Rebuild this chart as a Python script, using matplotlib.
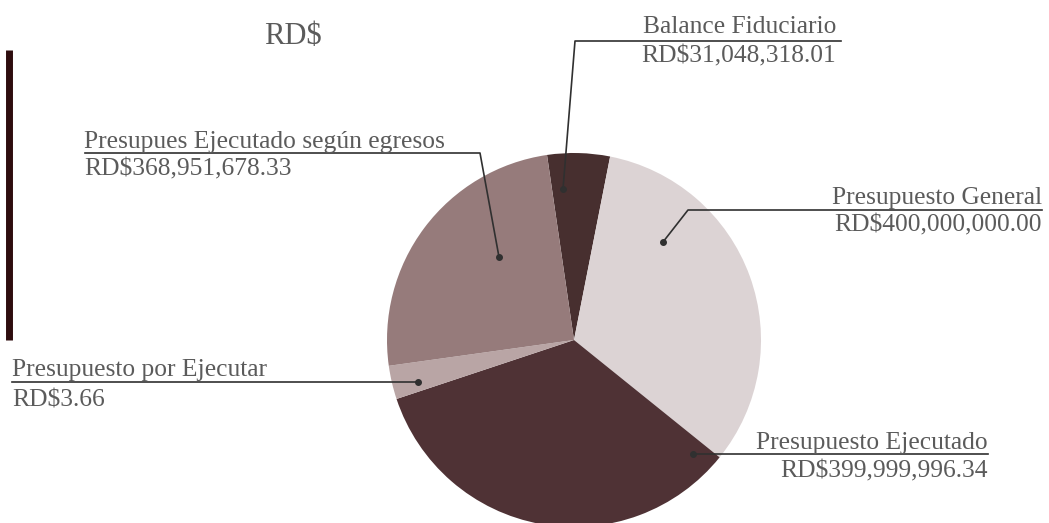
import matplotlib
matplotlib.use('Agg')
import matplotlib.pyplot as plt

# slices, clockwise starting from the top
categories = ["Balance Fiduciario", "Presupuesto General", "Presupuesto Ejecutado",
              "Presupuesto por Ejecutar", "Presupues Ejecutado según egresos"]
value_labels = ["RD$31,048,318.01", "RD$400,000,000.00", "RD$399,999,996.34",
                "RD$3.66", "RD$368,951,678.33"]
# slice sizes as drawn (percent of the circle)
slice_shares = [5.4, 32.7, 34.1, 2.9, 24.9]
slice_colors = ["#472f2f", "#dcd3d4", "#4f3235", "#b9a5a5", "#967b7b"]

W, H = 1049, 523
TEXT_COLOR = "#5b5b5b"
LINE_COLOR = "#303030"
FONT = "Liberation Serif"


def Y(y):
    # image-style y (top down) -> axis y
    return H - y


fig = plt.figure(figsize=(W / 100, H / 100), dpi=100)
ax = fig.add_axes([0, 0, 1, 1])

ax.pie(slice_shares, colors=slice_colors, startangle=98.3, counterclock=False,
       center=(574, Y(340)), radius=187, wedgeprops=dict(linewidth=0))
ax.set_xlim(0, W)
ax.set_ylim(0, H)
ax.set_aspect('equal')
ax.axis('off')

# left accent bar
ax.plot([8.5, 8.5], [Y(50), Y(340)], color="#2e0d0e", lw=5, solid_capstyle='butt')

ax.text(293, Y(36), "RD$", ha='center', va='center', fontsize=22,
        family=FONT, color=TEXT_COLOR)

# (label anchor x, ha, label baseline y, value top y, leader path ending at the dot)
callouts = [
    (836, 'right', 33, 45, [(841, 41), (575, 41), (563, 189)]),
    (1042, 'right', 204, 214, [(1042, 210), (688, 210), (663, 242)]),
    (988, 'right', 449, 460, [(988, 454), (693, 454)]),
    (12, 'left', 376, 389, [(12, 382), (418, 382)]),
    (84, 'left', 148, 158, [(85, 153), (480, 153), (499, 257)]),
]

for (x, ha, yl, yv, path), name, val in zip(callouts, categories, value_labels):
    ax.text(x, Y(yl), name, ha=ha, va='baseline', fontsize=18.4,
            family=FONT, color=TEXT_COLOR)
    ax.text(x, Y(yv), val, ha=ha, va='top', fontsize=18.4,
            family=FONT, color=TEXT_COLOR)
    xs = [p[0] for p in path]
    ys = [Y(p[1]) for p in path]
    ax.plot(xs, ys, color=LINE_COLOR, lw=1.2)
    ax.plot(xs[-1], ys[-1], 'o', color=LINE_COLOR, ms=4)

plt.savefig("out.png", dpi=100)
plt.close(fig)
